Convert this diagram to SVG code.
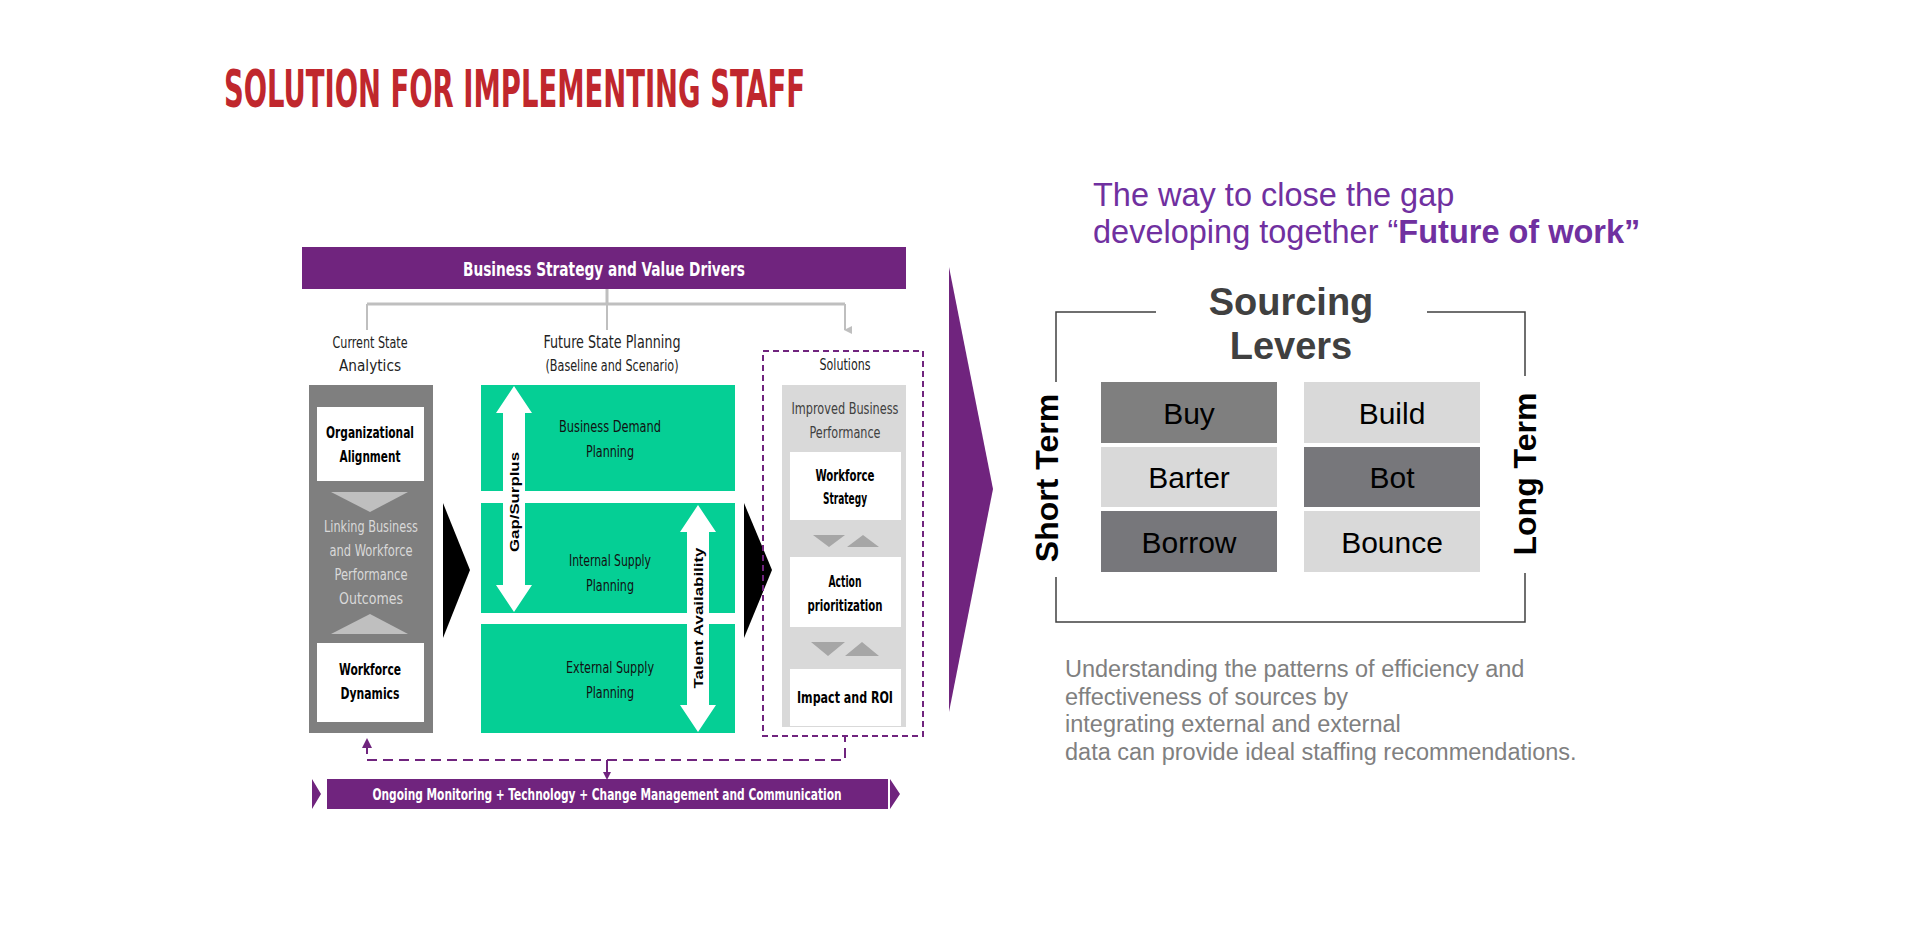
<svg xmlns="http://www.w3.org/2000/svg" width="1920" height="925" viewBox="0 0 1920 925">
<style>
.n{font-family:"DejaVu Sans Condensed","Liberation Sans",sans-serif;text-anchor:middle}
.b{font-weight:bold}
.a{font-family:"Liberation Sans",Arial,sans-serif}
.cell{font-family:"Liberation Sans",Arial,sans-serif;font-size:30px;text-anchor:middle;fill:#000}
</style>
<defs>
<marker id="ga" markerWidth="8" markerHeight="8" refX="4" refY="7" orient="auto" markerUnits="userSpaceOnUse"><path d="M0,0 L8,0 L4,8 Z" fill="#bfbfbf"/></marker>
</defs>
<rect width="1920" height="925" fill="#fff"/>
<text x="224" y="107" class="n b" style="text-anchor:start" font-size="52" fill="#c0272d" textLength="581" lengthAdjust="spacingAndGlyphs">SOLUTION FOR IMPLEMENTING STAFF</text>

<g id="top-bar"><rect x="302" y="247" width="604" height="42" fill="#70247e"/>
<text x="604" y="276" class="n b" font-size="20" fill="#fff" textLength="282" lengthAdjust="spacingAndGlyphs">Business Strategy and Value Drivers</text></g>

<g id="connectors" fill="none">
<path d="M607,289 V304 M367,304 H845" stroke="#bfbfbf" stroke-width="3"/>
<path d="M367,304 V330 M607,304 V330 M845,304 V330" stroke="#bfbfbf" stroke-width="2" marker-end="url(#ga)"/>
<path d="M367,744 V760 H845 V736" stroke="#70247e" stroke-width="2" stroke-dasharray="10,6"/>
<path d="M362,748 L367,738 L372,748 Z" fill="#70247e"/>
<path d="M607,760 V776" stroke="#70247e" stroke-width="2"/>
<path d="M603,772 L607,780 L611,772 Z" fill="#70247e"/>
</g>

<g id="current-state">
<text x="370" y="348" class="n" font-size="16" fill="#222" textLength="75" lengthAdjust="spacingAndGlyphs">Current State</text>
<text x="370" y="371" class="n" font-size="16" fill="#222" textLength="62" lengthAdjust="spacingAndGlyphs">Analytics</text>
<rect x="309" y="385" width="124" height="348" fill="#7f7f7f"/>
<rect x="317" y="407" width="107" height="74" fill="#fff"/>
<text x="370" y="438" class="n b" font-size="16" fill="#000" textLength="88" lengthAdjust="spacingAndGlyphs">Organizational</text>
<text x="370" y="462" class="n b" font-size="16" fill="#000" textLength="61" lengthAdjust="spacingAndGlyphs">Alignment</text>
<path d="M331,492 H408 L370,512 Z" fill="#bfbfbf"/>
<text x="371" y="532" class="n" font-size="16" fill="#d9d9d9" textLength="94" lengthAdjust="spacingAndGlyphs">Linking Business</text>
<text x="371" y="556" class="n" font-size="16" fill="#d9d9d9" textLength="83" lengthAdjust="spacingAndGlyphs">and Workforce</text>
<text x="371" y="580" class="n" font-size="16" fill="#d9d9d9" textLength="73" lengthAdjust="spacingAndGlyphs">Performance</text>
<text x="371" y="604" class="n" font-size="16" fill="#d9d9d9" textLength="64" lengthAdjust="spacingAndGlyphs">Outcomes</text>
<path d="M331,634 H408 L370,614 Z" fill="#bfbfbf"/>
<rect x="317" y="643" width="107" height="79" fill="#fff"/>
<text x="370" y="675" class="n b" font-size="16" fill="#000" textLength="62" lengthAdjust="spacingAndGlyphs">Workforce</text>
<text x="370" y="699" class="n b" font-size="16" fill="#000" textLength="59" lengthAdjust="spacingAndGlyphs">Dynamics</text>
</g>

<path d="M443,503 L470,570 L443,638 Z" fill="#000"/>
<path d="M744,503 L772,570 L744,638 Z" fill="#000"/>

<g id="future-state">
<text x="612" y="348" class="n" font-size="18" fill="#222" textLength="137" lengthAdjust="spacingAndGlyphs">Future State Planning</text>
<text x="612" y="371" class="n" font-size="15" fill="#222" textLength="133" lengthAdjust="spacingAndGlyphs">(Baseline and Scenario)</text>
<rect x="481" y="385" width="254" height="106" fill="#05cf95"/>
<rect x="481" y="503" width="254" height="110" fill="#05cf95"/>
<rect x="481" y="624" width="254" height="109" fill="#05cf95"/>
<text x="610" y="432" class="n" font-size="15" fill="#111" textLength="102" lengthAdjust="spacingAndGlyphs">Business Demand</text>
<text x="610" y="457" class="n" font-size="15" fill="#111" textLength="48" lengthAdjust="spacingAndGlyphs">Planning</text>
<text x="610" y="566" class="n" font-size="15" fill="#111" textLength="82" lengthAdjust="spacingAndGlyphs">Internal Supply</text>
<text x="610" y="591" class="n" font-size="15" fill="#111" textLength="48" lengthAdjust="spacingAndGlyphs">Planning</text>
<text x="610" y="673" class="n" font-size="15" fill="#111" textLength="88" lengthAdjust="spacingAndGlyphs">External Supply</text>
<text x="610" y="698" class="n" font-size="15" fill="#111" textLength="48" lengthAdjust="spacingAndGlyphs">Planning</text>
<path d="M514,386 L532,413 L525,413 L525,585 L532,585 L514,612 L496,585 L503,585 L503,413 L496,413 Z" fill="#fff"/>
<text transform="translate(519,502) rotate(-90)" class="a b" text-anchor="middle" font-size="13" fill="#000" textLength="100" lengthAdjust="spacingAndGlyphs">Gap/Surplus</text>
<path d="M698,505 L716,532 L709,532 L709,705 L716,705 L698,732 L680,705 L687,705 L687,532 L680,532 Z" fill="#fff"/>
<text transform="translate(703,618) rotate(-90)" class="a b" text-anchor="middle" font-size="13" fill="#000" textLength="141" lengthAdjust="spacingAndGlyphs">Talent Availability</text>
</g>

<g id="solutions">
<rect x="763" y="351" width="160" height="385" fill="none" stroke="#70247e" stroke-width="2" stroke-dasharray="6,4"/>
<text x="845" y="370" class="n" font-size="15" fill="#222" textLength="51" lengthAdjust="spacingAndGlyphs">Solutions</text>
<rect x="782" y="385" width="124" height="342" fill="#d9d9d9"/>
<text x="845" y="414" class="n" font-size="15" fill="#404040" textLength="107" lengthAdjust="spacingAndGlyphs">Improved Business</text>
<text x="845" y="438" class="n" font-size="15" fill="#404040" textLength="71" lengthAdjust="spacingAndGlyphs">Performance</text>
<rect x="790" y="452" width="111" height="68" fill="#fff"/>
<text x="845" y="481" class="n b" font-size="15" fill="#000" textLength="59" lengthAdjust="spacingAndGlyphs">Workforce</text>
<text x="845" y="504" class="n b" font-size="15" fill="#000" textLength="44" lengthAdjust="spacingAndGlyphs">Strategy</text>
<path d="M813,535 H845 L829,547 Z M847,547 H879 L863,535 Z" fill="#a6a6a6"/>
<rect x="790" y="557" width="111" height="70" fill="#fff"/>
<text x="845" y="587" class="n b" font-size="15" fill="#000" textLength="33" lengthAdjust="spacingAndGlyphs">Action</text>
<text x="845" y="611" class="n b" font-size="15" fill="#000" textLength="75" lengthAdjust="spacingAndGlyphs">prioritization</text>
<path d="M811,642 H845 L828,656 Z M845,656 H879 L862,642 Z" fill="#a6a6a6"/>
<rect x="790" y="669" width="111" height="57" fill="#fff"/>
<text x="845" y="703" class="n b" font-size="15" fill="#000" textLength="96" lengthAdjust="spacingAndGlyphs">Impact and ROI</text>
</g>

<g id="bottom-bar">
<path d="M312,779 L321,794 L312,809 Z M890,779 L900,794 L890,809 Z" fill="#70247e"/>
<rect x="327" y="779" width="561" height="30" fill="#70247e"/>
<text x="607" y="800" class="n b" font-size="16" fill="#fff" textLength="469" lengthAdjust="spacingAndGlyphs">Ongoing Monitoring + Technology + Change Management and Communication</text>
</g>

<path id="chevron" d="M949,267 L993,489 L949,712 Z" fill="#70247e"/>

<g id="headline" class="a" font-size="32.5" fill="#7030a0">
<text x="1093" y="206">The way to close the gap</text>
<text x="1093" y="243">developing together “<tspan font-weight="bold">Future of work”</tspan></text>
</g>

<g id="sourcing-levers">
<path d="M1056,382 V312 H1156 M1427,312 H1525 V376 M1056,577 V622 H1525 V573" fill="none" stroke="#404040" stroke-width="1.5"/>
<text x="1291" y="315" class="a b" text-anchor="middle" font-size="38" fill="#404040">Sourcing</text>
<text x="1291" y="359" class="a b" text-anchor="middle" font-size="38" fill="#404040">Levers</text>
<rect x="1101" y="382" width="176" height="61" fill="#7f7f7f"/>
<rect x="1101" y="447" width="176" height="60" fill="#d9d9d9"/>
<rect x="1101" y="511" width="176" height="61" fill="#77777b"/>
<rect x="1304" y="382" width="176" height="61" fill="#d9d9d9"/>
<rect x="1304" y="447" width="176" height="60" fill="#77777b"/>
<rect x="1304" y="511" width="176" height="61" fill="#d9d9d9"/>
<text x="1189" y="424" class="cell">Buy</text>
<text x="1189" y="488" class="cell">Barter</text>
<text x="1189" y="553" class="cell">Borrow</text>
<text x="1392" y="424" class="cell">Build</text>
<text x="1392" y="488" class="cell">Bot</text>
<text x="1392" y="553" class="cell">Bounce</text>
<text transform="translate(1058,478) rotate(-90)" class="a b" text-anchor="middle" font-size="32" fill="#000">Short Term</text>
<text transform="translate(1536,474) rotate(-90)" class="a b" text-anchor="middle" font-size="32" fill="#000">Long Term</text>
</g>

<g id="description" class="a" font-size="23.5" fill="#808080">
<text x="1065" y="677">Understanding the patterns of efficiency and</text>
<text x="1065" y="705">effectiveness of sources by</text>
<text x="1065" y="732">integrating external and external</text>
<text x="1065" y="760">data can provide ideal staffing recommendations.</text>
</g>
</svg>
